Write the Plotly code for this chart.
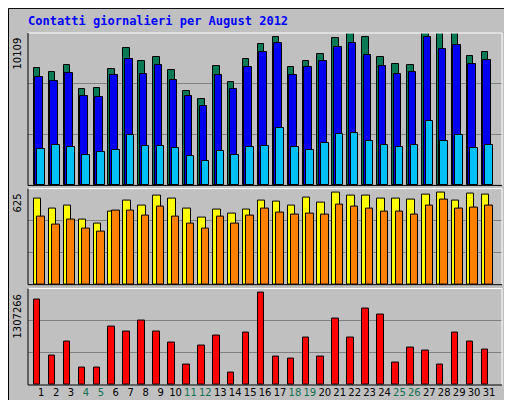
import plotly.graph_objects as go

days = list(range(1, 32))
weekend = [4, 5, 11, 12, 18, 19, 25, 26]

# values
contatti = [8035, 7760, 8240, 6590, 6660, 7970, 9390, 8490, 8770, 7880, 6450, 5900, 8170, 7050, 8650, 9690, 10110, 8100, 8510, 8990, 10040, 10380, 10110, 8770, 8310, 8240, 10680, 10380, 10450, 8850, 9120]
file_ = [7420, 7150, 7700, 6130, 6060, 7560, 8650, 7630, 8240, 7220, 6130, 5440, 7560, 6590, 8100, 9120, 9740, 7560, 8100, 8510, 9470, 9740, 8920, 8170, 7630, 7760, 10110, 9290, 9560, 8310, 8580]
pagine = [2470, 2740, 2610, 2080, 2270, 2400, 3430, 2680, 2680, 2540, 2010, 1670, 2330, 2080, 2610, 2680, 3910, 2610, 2400, 2880, 3500, 3570, 3020, 2740, 2610, 2740, 4370, 3020, 3430, 2540, 2740]
visite = [585, 517, 537, 442, 415, 496, 571, 537, 605, 585, 517, 456, 510, 483, 510, 571, 564, 537, 591, 557, 625, 605, 605, 585, 585, 578, 612, 625, 571, 619, 612]
host = [462, 408, 442, 381, 360, 503, 503, 469, 530, 462, 415, 381, 462, 415, 469, 517, 490, 476, 483, 476, 544, 530, 517, 496, 496, 476, 537, 578, 517, 523, 537]
kb = [1206000, 416000, 618000, 243000, 243000, 819000, 747000, 906000, 747000, 603000, 287000, 560000, 704000, 171000, 733000, 1307266, 402000, 373000, 675000, 402000, 935000, 675000, 1080000, 992000, 316000, 531000, 488000, 287000, 733000, 618000, 503000]

max1, max2, max3 = 10407, 650, 1360000
BG = "#c0c0c0"

fig = go.Figure()

def bars(y, color, off, w, ax):
    fig.add_trace(go.Bar(x=days, y=y, offset=off, width=w, marker_color=color,
                         marker_line=dict(color="black", width=1),
                         xaxis="x", yaxis=ax, showlegend=False, hoverinfo="skip"))

bars(contatti, "#0a7a55", -0.49, 0.44, "y")
bars(file_, "#0000f0", -0.38, 0.5, "y")
bars(pagine, "#00c0f8", -0.25, 0.5, "y")
bars(visite, "#ffff00", -0.49, 0.51, "y2")
bars(host, "#ff8000", -0.25, 0.5, "y2")
bars(kb, "#ff0000", -0.49, 0.44, "y3")

def yax(dom, mx):
    return dict(domain=dom, range=[0, mx], tickvals=[mx / 3, 2 * mx / 3], showticklabels=False,
                showgrid=True, gridcolor="#808080", gridwidth=1, zeroline=False, anchor="x",
                showline=False, fixedrange=True, automargin=False)

tt = [f'<span style="color:{"#107050" if d in weekend else "black"}">{d}</span>' for d in days]
fig.update_layout(
    width=512, height=400, margin=dict(l=20, r=18, t=25, b=23, autoexpand=False),
    paper_bgcolor=BG, plot_bgcolor=BG, barmode="overlay", bargap=0,
    font=dict(family="DejaVu Sans", size=10, color="black"),
    xaxis=dict(range=[0.12, 31.87], tickvals=days, ticktext=tt, ticks="", showgrid=False,
               zeroline=False, anchor="y3", tickfont=dict(size=10), tickangle=0,
               automargin=False, fixedrange=True),
    yaxis=yax([0.567, 1], max1),
    yaxis2=yax([0.285, 0.558], max2),
    yaxis3=yax([0, 0.274], max3),
)

# panel frames
for y0, y1 in [(0.567, 1), (0.285, 0.558), (0, 0.274)]:
    fig.add_shape(type="line", xref="paper", yref="paper", x0=0, x1=1, y0=y1, y1=y1, line=dict(color="white", width=1))
    fig.add_shape(type="line", xref="paper", yref="paper", x0=1, x1=1, y0=y0, y1=y1, line=dict(color="white", width=1))
    fig.add_shape(type="line", xref="paper", yref="paper", x0=0, x1=0, y0=y0, y1=y1, line=dict(color="black", width=1))
    fig.add_shape(type="line", xref="paper", yref="paper", x0=0, x1=1, y0=y0, y1=y0, line=dict(color="black", width=1))

# outer border
fig.add_shape(type="rect", xref="paper", yref="paper", x0=-19.5 / 474, x1=1 + 17.5 / 474,
              y0=-22.5 / 351, y1=1 + 24.5 / 351, line=dict(color="black", width=1))

mono = "DejaVu Sans Mono"
fig.add_annotation(xref="paper", yref="paper", x=-2 / 474, y=1 + 21 / 351, xanchor="left", yanchor="top",
                   text="<b>Contatti giornalieri per August 2012</b>", showarrow=False,
                   font=dict(family=mono, size=12, color="#0000ff"))

for lab, ytop in [("10109", 1.0), ("625", 0.558), ("1307266", 0.274)]:
    fig.add_annotation(xref="paper", yref="paper", x=-3 / 474, y=ytop - 3 / 351, xanchor="right", yanchor="top",
                       text=lab, textangle=-90, showarrow=False, font=dict(size=10, color="black"))

parts = [("kB F", "#ff0000"), ("kB In", "#0000ff"), ("kB Out", "#107050"), ("Nomi di Host", "#ff8000"),
         ("Visite", "#ffff00"), ("Pagine", "#00c0f8"), ("File", "#404040"), ("Contatti", "#107050")]
txt = '<span style="color:#404040"> / </span>'.join(f'<span style="color:{c}">{t}</span>' for t, c in parts)
fig.add_annotation(xref="paper", yref="paper", x=1 + 2 / 474, y=-2 / 351, xanchor="left", yanchor="bottom",
                   text=txt, textangle=-90, showarrow=False, font=dict(family=mono, size=7.6))

fig.write_html("out.html")
